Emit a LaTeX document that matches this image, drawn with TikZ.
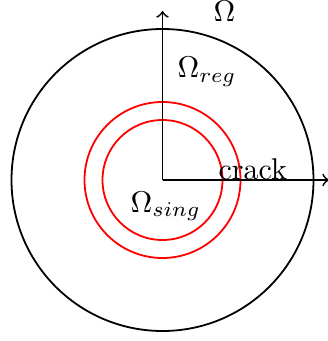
\documentclass[tikz,border=0pt]{standalone}
\begin{document}
\begin{tikzpicture}[x=0.3333pt,y=-0.3333pt,
  ln/.style={line width=0.6pt},
  lbl/.style={anchor=base west,inner sep=0pt}]
\useasboundingbox (0,0) rectangle (328,341);
\coordinate (O) at (162.5,180);
\coordinate (top) at (162.5,11);
\coordinate (right) at (329,180);
\draw[ln] (O) circle[radius=151];
\draw[ln,red] (O) circle[radius=78];
\draw[ln,red] (O) circle[radius=60];
\draw[ln,->] (O) -- (top);
\draw[ln,->] (O) -- (right);
\node[lbl] (om) at (213,22) {$\Omega$};
\node[lbl] (omreg) at (177,78) {$\Omega_{reg}$};
\node[lbl] (crack) at (218,179) {crack};
\node[lbl] (omsing) at (130,212) {$\Omega_{sing}$};
\end{tikzpicture}
\end{document}
